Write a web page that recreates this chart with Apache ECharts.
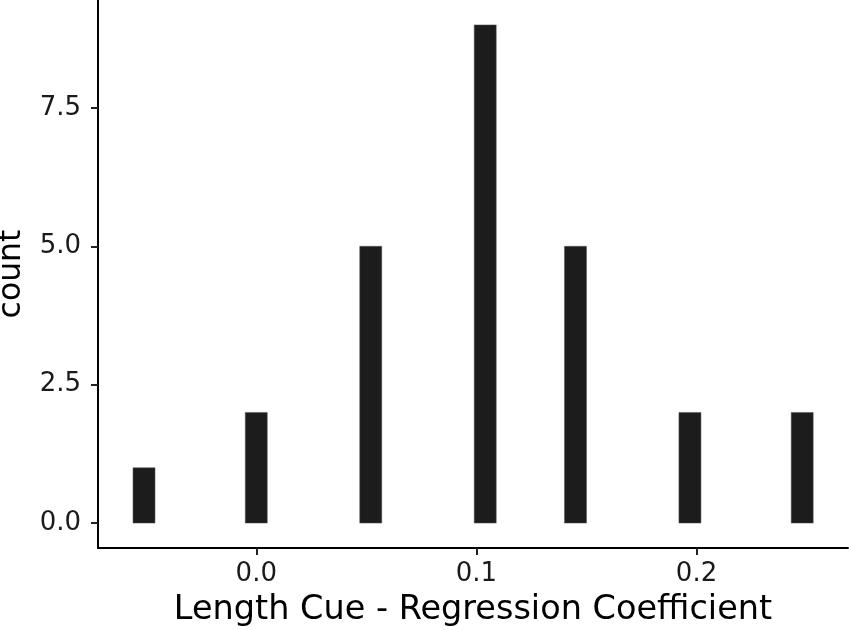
<!DOCTYPE html>
<html><head><meta charset="utf-8">
<script src="https://cdn.jsdelivr.net/npm/echarts@6/dist/echarts.min.js"></script>
<style>html,body{margin:0;padding:0;background:#fff}#c{width:851px;height:630px}</style>
</head><body><div id="c"></div>
<script>
const binCenters = [-0.051, 0.0, 0.052, 0.104, 0.145, 0.197, 0.248];
const counts = [1, 2, 5, 9, 5, 2, 2];
const binWidth = 0.01;
const xTicks = [0.0, 0.1, 0.2];
const yTicks = [0, 2.5, 5, 7.5];

const chart = echarts.init(document.getElementById('c'));
const font = 'DejaVu Sans';
chart.setOption({
  animation: false,
  grid: {left: 98, right: 3, top: 0, bottom: 82, containLabel: false, outerBoundsMode: 'none'},
  xAxis: {
    type: 'value', min: -0.0719, max: 0.2688,
    name: 'Length Cue - Regression Coefficient', nameLocation: 'middle', nameGap: 45,
    nameTextStyle: {fontFamily: font, fontSize: 33.5, color: '#000'},
    axisLine: {show: true, onZero: false, lineStyle: {color: '#000', width: 2}},
    axisTick: {show: true, customValues: xTicks, length: 7, lineStyle: {color: '#222', width: 2}},
    axisLabel: {customValues: xTicks, fontFamily: font, fontSize: 26, color: '#1a1a1a', margin: 13,
      formatter: v => v.toFixed(1)},
    splitLine: {show: false}
  },
  yAxis: {
    type: 'value', min: -0.45, max: 9.45,
    name: 'count', nameLocation: 'middle', nameGap: 70, nameRotate: 90,
    nameTextStyle: {fontFamily: font, fontSize: 31.5, color: '#000'},
    axisLine: {show: true, onZero: false, lineStyle: {color: '#000', width: 2}},
    axisTick: {show: true, customValues: yTicks, length: 7, lineStyle: {color: '#222', width: 2}},
    axisLabel: {customValues: yTicks, fontFamily: font, fontSize: 26, color: '#1a1a1a', margin: 17,
      formatter: v => v.toFixed(1)},
    splitLine: {show: false}
  },
  series: [{
    type: 'custom',
    data: binCenters.map((c, i) => [c, counts[i]]),
    renderItem: function (params, api) {
      const c = api.value(0), n = api.value(1);
      const p0 = api.coord([c - binWidth / 2, 0]);
      const p1 = api.coord([c + binWidth / 2, n]);
      return {
        type: 'rect',
        shape: {x: p0[0], y: p1[1], width: p1[0] - p0[0], height: p0[1] - p1[1]},
        style: {fill: '#1c1c1c', stroke: '#555', lineWidth: 0.5}
      };
    }
  }]
});
</script></body></html>
